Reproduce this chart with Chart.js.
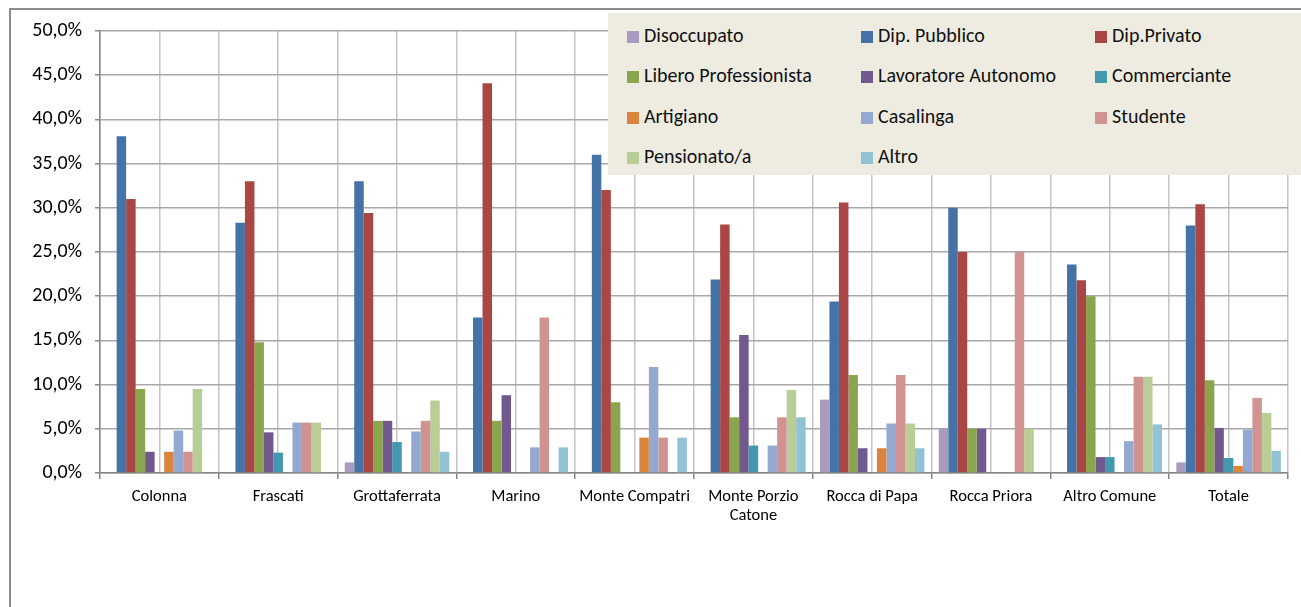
<!DOCTYPE html>
<html lang="it">
<head>
<meta charset="utf-8">
<title>Professione per comune</title>
<script src="https://cdn.jsdelivr.net/npm/chart.js@4/dist/chart.umd.min.js"></script>
<style>
  html, body { margin: 0; padding: 0; background: #fff; }
  #wrap { position: relative; width: 1301px; height: 607px; overflow: hidden; font-family: Carlito, Calibri, Lato, sans-serif; }
  #frame { position: absolute; left: 9px; top: 8px; width: 1400px; height: 700px; border-left: 2px solid #8c8c8c; border-top: 2px solid #8c8c8c; }
  #grafico { position: absolute; left: 0; top: 0; }
  #legenda { position: absolute; left: 608px; top: 13px; width: 693px; height: 162px; background: #eeece1; }
  .voce { position: absolute; height: 22px; line-height: 22px; font-size: 20px; color: #111; white-space: nowrap; }
  .voce span { display: inline-block; width: 12px; height: 12px; margin-right: 5px; vertical-align: -1px; }
</style>
</head>
<body>
<div id="wrap">
  <div id="frame"></div>
  <canvas id="grafico" width="1301" height="607"></canvas>
  <div id="legenda"></div>
</div>
<script>
// comuni (asse x)
const categorie = ['Colonna', 'Frascati', 'Grottaferrata', 'Marino', 'Monte Compatri',
  ['Monte Porzio', 'Catone'], 'Rocca di Papa', 'Rocca Priora', 'Altro Comune', 'Totale'];

// percentuali per professione
const disoccupato  = [0,    0,    1.2,  0,    0,    0,    8.3,  5.0,  0,    1.2];
const dipPubblico  = [38.1, 28.3, 33.0, 17.6, 36.0, 21.9, 19.4, 30.0, 23.6, 28.0];
const dipPrivato   = [31.0, 33.0, 29.4, 44.1, 32.0, 28.1, 30.6, 25.0, 21.8, 30.4];
const liberoProf   = [9.5,  14.8, 5.9,  5.9,  8.0,  6.3,  11.1, 5.0,  20.0, 10.5];
const lavAutonomo  = [2.4,  4.6,  5.9,  8.8,  0,    15.6, 2.8,  5.0,  1.8,  5.1];
const commerciante = [0,    2.3,  3.5,  0,    0,    3.1,  0,    0,    1.8,  1.7];
const artigiano    = [2.4,  0,    0,    0,    4.0,  0,    2.8,  0,    0,    0.8];
const casalinga    = [4.8,  5.7,  4.7,  2.9,  12.0, 3.1,  5.6,  0,    3.6,  4.9];
const studente     = [2.4,  5.7,  5.9,  17.6, 4.0,  6.3,  11.1, 25.0, 10.9, 8.5];
const pensionato   = [9.5,  5.7,  8.2,  0,    0,    9.4,  5.6,  5.0,  10.9, 6.8];
const altro        = [0,    0,    2.4,  2.9,  4.0,  6.3,  2.8,  0,    5.5,  2.5];

const nomiSerie = ['Disoccupato', 'Dip. Pubblico', 'Dip.Privato', 'Libero Professionista',
  'Lavoratore Autonomo', 'Commerciante', 'Artigiano', 'Casalinga', 'Studente', 'Pensionato/a', 'Altro'];
const valoriSerie = [disoccupato, dipPubblico, dipPrivato, liberoProf, lavAutonomo,
  commerciante, artigiano, casalinga, studente, pensionato, altro];

// tick asse y
const tickY = [0, 5, 10, 15, 20, 25, 30, 35, 40, 45, 50];

const colori = ['#A99BBD', '#4572A7', '#AA4643', '#89A54E', '#71588F', '#4198AF',
  '#DB843D', '#93A9CF', '#D19392', '#B9CD96', '#92C3D4'];

const fontAssi = 'Carlito, Calibri, Lato, sans-serif';

const datasets = valoriSerie.map((v, i) => ({
  label: nomiSerie[i],
  data: v,
  backgroundColor: colori[i],
  borderWidth: 0,
  barPercentage: 1,
  categoryPercentage: 0.88
}));

new Chart(document.getElementById('grafico'), {
  type: 'bar',
  data: { labels: categorie, datasets },
  options: {
    responsive: false,
    animation: false,
    layout: { padding: { top: 31, right: 13, left: 0, bottom: 0 } },
    plugins: { legend: { display: false }, tooltip: { enabled: false } },
    scales: {
      x: {
        offset: true,
        grid: { offset: true, color: '#c4c4c4', lineWidth: 1.5, tickLength: 6, tickColor: '#868686' },
        border: { color: '#868686', width: 1.5 },
        ticks: { color: '#000', font: { family: fontAssi, size: 16.5, lineHeight: 1.17 }, padding: 8, autoSkip: false, maxRotation: 0 },
        afterFit: s => { s.height = 134; }
      },
      // linee verticali al centro di ogni comune
      x2: {
        type: 'category',
        labels: categorie,
        position: 'bottom',
        offset: true,
        grid: { offset: false, color: '#c4c4c4', lineWidth: 1.5, drawTicks: false },
        border: { display: false },
        ticks: { display: false },
        afterFit: s => { s.height = 0; }
      },
      y: {
        min: 0,
        max: 50,
        afterBuildTicks: s => { s.ticks = tickY.map(v => ({ value: v })); },
        grid: { color: '#a8a8a8', lineWidth: 1.5, tickLength: 5, tickColor: '#868686' },
        border: { color: '#868686', width: 1.5 },
        ticks: {
          color: '#000',
          padding: 13,
          font: { family: fontAssi, size: 20 },
          callback: v => v.toFixed(1).replace('.', ',') + '%'
        },
        afterFit: s => { s.width = 100; }
      }
    }
  }
});

// legenda a tre colonne sopra il grafico
const legenda = document.getElementById('legenda');
nomiSerie.forEach((nome, i) => {
  const voce = document.createElement('div');
  voce.className = 'voce';
  voce.style.left = (19 + (i % 3) * 234) + 'px';
  voce.style.top = (11 + Math.floor(i / 3) * 40.3) + 'px';
  voce.innerHTML = `<span style="background:${colori[i]}"></span>${nome}`;
  legenda.appendChild(voce);
});
</script>
</body>
</html>
